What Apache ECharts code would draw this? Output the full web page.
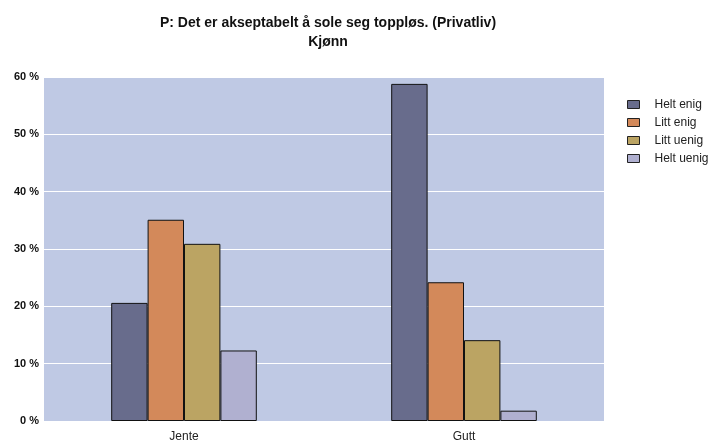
<!DOCTYPE html>
<html>
<head>
<meta charset="utf-8">
<script src="https://cdn.jsdelivr.net/npm/echarts@6/dist/echarts.min.js"></script>
<style>
html,body{margin:0;padding:0;background:#fff;}
#c{width:714px;height:447px;}
</style>
</head>
<body>
<div id="c"></div>
<script>
var categories = ['Jente', 'Gutt'];
var seriesNames = ['Helt enig', 'Litt enig', 'Litt uenig', 'Helt uenig'];
var heltEnig = [20.6, 58.8];
var littEnig = [35.1, 24.2];
var littUenig = [30.9, 14.1];
var heltUenig = [12.3, 1.8];
var yTicks = [0, 10, 20, 30, 40, 50, 60];

var colors = ['#686c8c', '#d3895a', '#bba463', '#b0b0d0'];
var values = [heltEnig, littEnig, littUenig, heltUenig];

var chart = echarts.init(document.getElementById('c'), null, {renderer: 'canvas'});
var series = seriesNames.map(function (name, i) {
  return {
    name: name,
    type: 'bar',
    data: values[i],
    barGap: '0%',
    barCategoryGap: '48%',
    itemStyle: {color: colors[i], borderColor: '#111', borderWidth: 1},
    emphasis: {disabled: true}
  };
});

chart.setOption({
  animation: false,
  title: {
    text: 'P: Det er akseptabelt å sole seg toppløs. (Privatliv)\nKjønn',
    left: 323,
    textAlign: 'center',
    top: 9,
    textStyle: {fontFamily: 'Liberation Sans', fontWeight: 'bold', fontSize: 14, lineHeight: 19, color: '#111'}
  },
  legend: {
    orient: 'vertical',
    left: 627,
    top: 98,
    padding: 0,
    itemWidth: 12,
    itemHeight: 8,
    itemGap: 5,
    icon: 'rect',
    data: seriesNames,
    itemStyle: {borderColor: '#222', borderWidth: 1},
    textStyle: {fontFamily: 'Liberation Sans', fontSize: 12, lineHeight: 13, color: '#222', padding: [0, 0, 0, 10]}
  },
  grid: {
    left: 44, right: 110, top: 77, bottom: 26,
    show: true, backgroundColor: '#bfc9e4', borderWidth: 0
  },
  xAxis: {
    type: 'category',
    data: categories,
    axisLine: {show: false},
    axisTick: {show: false},
    axisLabel: {fontFamily: 'Liberation Sans', fontSize: 12, color: '#222', margin: 10}
  },
  yAxis: {
    type: 'value',
    min: yTicks[0],
    max: yTicks[yTicks.length - 1],
    interval: 10,
    axisLine: {show: false},
    axisTick: {show: false},
    splitLine: {lineStyle: {color: '#ffffff', width: 1}},
    axisLabel: {formatter: '{value} %', fontFamily: 'Liberation Sans', fontWeight: 'bold', fontSize: 11, color: '#111', margin: 5, verticalAlign: 'middle', lineHeight: 12, padding: [0, 0, 6, 0]}
  },
  series: series
});
</script>
</body>
</html>
